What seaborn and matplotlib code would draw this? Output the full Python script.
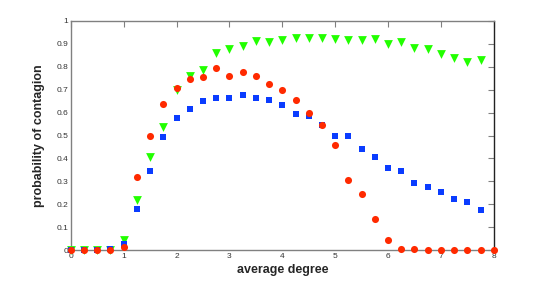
import numpy as np
import pandas as pd
import seaborn as sns
import matplotlib.pyplot as plt

# average degree grid (0.25 steps)
degree = [0.0, 0.25, 0.5, 0.75, 1.0, 1.25, 1.5, 1.75, 2.0, 2.25, 2.5, 2.75, 3.0, 3.25,
          3.5, 3.75, 4.0, 4.25, 4.5, 4.75, 5.0, 5.25, 5.5, 5.75, 6.0, 6.25, 6.5, 6.75,
          7.0, 7.25, 7.5, 7.75, 8.0]

green_tri = [0.0, 0.0, 0.0, 0.0, 0.045, 0.22, 0.405, 0.537, 0.70, 0.76, 0.786, 0.86, 0.878,
             0.89, 0.913, 0.907, 0.916, 0.926, 0.926, 0.924, 0.92, 0.916, 0.916, 0.92, 0.897,
             0.907, 0.88, 0.878, 0.855, 0.837, 0.821, 0.83, None]

blue_sq = [0.0, 0.0, 0.0, 0.005, 0.028, 0.178, 0.345, 0.495, 0.575, 0.614, 0.65, 0.663, 0.662,
           0.676, 0.662, 0.657, 0.634, 0.592, 0.585, 0.545, 0.498, 0.498, 0.44, 0.405, 0.36,
           0.346, 0.293, 0.275, 0.253, 0.223, 0.21, 0.176, None]

red_dot = [0.0, 0.0, 0.0, 0.0, 0.012, 0.32, 0.50, 0.638, 0.707, 0.748, 0.754, 0.793, 0.761,
           0.777, 0.761, 0.725, 0.699, 0.657, 0.60, 0.545, 0.459, 0.304, 0.245, 0.136, 0.046,
           0.005, 0.004, 0.0, 0.0, 0.0, 0.0, 0.0, 0.0]

df = pd.DataFrame({'degree': degree, 'green': green_tri, 'blue': blue_sq, 'red': red_dot})

sns.set_style("white")
plt.rcParams['font.family'] = ['Liberation Sans', 'DejaVu Sans']

fig = plt.figure(figsize=(5.45, 2.82), dpi=100)
ax = fig.add_axes([0.130, 0.113, 0.776, 0.813])

sns.scatterplot(data=df, x='degree', y='green', ax=ax, color='#22ff00', marker='v',
                s=40, linewidth=0, zorder=3, clip_on=False)
sns.scatterplot(data=df, x='degree', y='blue', ax=ax, color='#0a3cff', marker='s',
                s=24, linewidth=0, zorder=4, clip_on=False)
sns.scatterplot(data=df, x='degree', y='red', ax=ax, color='#ff2a00', marker='o',
                s=26, linewidth=0, zorder=5, clip_on=False)

ax.set_xlim(0, 8)
ax.set_ylim(0, 1)
ax.set_xticks(range(0, 9))
ax.set_yticks(np.arange(0, 1.01, 0.1))
ax.set_yticklabels(['0', '0.1', '0.2', '0.3', '0.4', '0.5', '0.6', '0.7', '0.8', '0.9', '1'])

ax.tick_params(direction='in', length=4, width=0.8, colors='#808080', labelsize=6,
               labelcolor='#333333', top=True, right=True, pad=2)
for side in ['left', 'bottom', 'top']:
    ax.spines[side].set_color('#808080')
    ax.spines[side].set_linewidth(1.0)
ax.spines['right'].set_color('#222222')
ax.spines['right'].set_linewidth(1.0)

ax.set_xlabel('average degree', fontsize=9, fontweight='bold', labelpad=3)
ax.set_ylabel('probability of contagion', fontsize=9, fontweight='bold', labelpad=8)

fig.savefig('out.png', dpi=100)
